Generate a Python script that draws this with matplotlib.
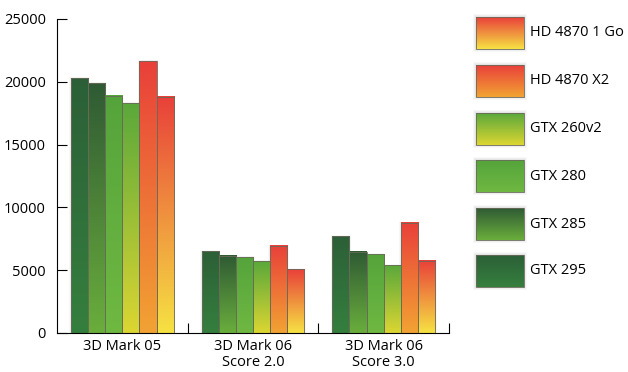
import numpy as np
import matplotlib
matplotlib.use("Agg")
import matplotlib.pyplot as plt
from matplotlib.colors import LinearSegmentedColormap
from matplotlib.patches import Rectangle

plt.rcParams['font.family'] = ['Open Sans', 'DejaVu Sans']

# données
tests = ["3D Mark 05", "3D Mark 06\nScore 2.0", "3D Mark 06\nScore 3.0"]
cartes = ["GTX 295", "GTX 285", "GTX 280", "GTX 260v2", "HD 4870 X2", "HD 4870 1 Go"]
gtx295 = [20300, 6500, 7700]
gtx285 = [19900, 6150, 6450]
gtx280 = [18870, 6050, 6270]
gtx260v2 = [18300, 5730, 5390]
hd4870x2 = [21650, 6930, 8760]
hd4870_1go = [18790, 5070, 5760]
scores = [gtx295, gtx285, gtx280, gtx260v2, hd4870x2, hd4870_1go]

# dégradés (haut -> bas)
degrades = [
    ("#2c5f37", "#357f3e"),
    ("#2f5a34", "#6aae3c"),
    ("#55a43b", "#6fb842"),
    ("#5aa83b", "#dcd632"),
    ("#e9403a", "#f2a333"),
    ("#e9403a", "#f6e243"),
]


def degrade(ax, x0, x1, y0, y1, couleurs, zorder=2):
    cmap = LinearSegmentedColormap.from_list("d", [couleurs[1], couleurs[0]])
    grad = np.linspace(0, 1, 256).reshape(-1, 1)
    ax.imshow(grad, cmap=cmap, extent=(x0, x1, y0, y1), origin="lower",
              aspect="auto", zorder=zorder, interpolation="bicubic")


fig = plt.figure(figsize=(6.28, 3.72), dpi=100)
ax = fig.add_axes([57 / 628, 1 - 333 / 372, (449 - 57) / 628, (333 - 19) / 372])

x = np.arange(len(tests))
largeur = 0.131
n = len(cartes)
for i, (serie, coul) in enumerate(zip(scores, degrades)):
    pos = x + (i - (n - 1) / 2) * largeur
    barres = ax.bar(pos, serie, largeur, facecolor="none", edgecolor="#6a6a5a",
                    linewidth=0.6, zorder=3)
    for b in barres:
        x0 = b.get_x()
        # ombre légère
        for k, a in zip([0.05, 0.035, 0.02], [0.05, 0.05, 0.06]):
            ax.add_patch(Rectangle((x0 - k * 0.25, 0), b.get_width() + k * 0.5,
                                   b.get_height() + k * 1500, facecolor="#888888",
                                   edgecolor="none", alpha=a, zorder=1))
        degrade(ax, x0, x0 + b.get_width(), 0, b.get_height(), coul)

ax.set_xlim(-0.5, 2.5)
ax.set_ylim(0, 25000)
ax.set_yticks([0, 5000, 10000, 15000, 20000, 25000])
ax.tick_params(axis="y", direction="in", length=7, width=0.8, labelsize=10.5, pad=8)
ax.set_xticks(x)
ax.set_xticklabels(tests, fontsize=10.5, linespacing=1.15)
ax.tick_params(axis="x", length=0, pad=4)
ax.set_xticks([0.5, 1.5, 2.5], minor=True)
ax.tick_params(axis="x", which="minor", direction="in", length=7, width=0.8)
for s in ["top", "right"]:
    ax.spines[s].set_visible(False)
for s in ["left", "bottom"]:
    ax.spines[s].set_linewidth(0.8)

# légende
leg = fig.add_axes([0, 0, 1, 1], zorder=5)
leg.set_xlim(0, 628)
leg.set_ylim(372, 0)
leg.axis("off")
hauts = [17, 65, 113, 160, 208, 255]
for haut, nom, coul in zip(hauts, cartes[::-1], degrades[::-1]):
    for k, a in zip([3, 2, 1], [0.06, 0.08, 0.10]):
        leg.add_patch(Rectangle((476 - k, haut - k), 48 + 2 * k, 32 + 2 * k,
                                facecolor="#888888", edgecolor="none", alpha=a))
    cmap = LinearSegmentedColormap.from_list("d", [coul[0], coul[1]])
    grad = np.linspace(0, 1, 256).reshape(-1, 1)
    leg.imshow(grad, cmap=cmap, extent=(476, 524, haut + 32, haut), origin="upper",
               aspect="auto", zorder=2)
    leg.add_patch(Rectangle((476, haut), 48, 32, facecolor="none",
                            edgecolor="#6a6a5a", linewidth=0.6, zorder=3))
    leg.text(530, haut + 16, nom, va="center", ha="left", fontsize=10.5)
leg.set_xlim(0, 628)
leg.set_ylim(372, 0)

fig.savefig("out.png", dpi=100)
